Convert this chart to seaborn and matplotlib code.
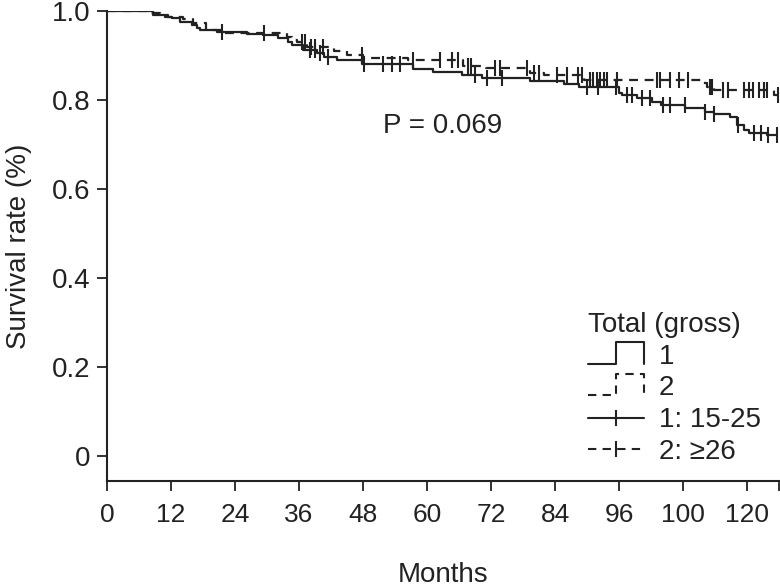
import numpy as np
import pandas as pd
import matplotlib
matplotlib.use("Agg")
import matplotlib.pyplot as plt
import seaborn as sns
from matplotlib.legend_handler import HandlerBase
from matplotlib.lines import Line2D

# Group 1: 15-25 (solid) - step times / survival after each step, censor times
g1_time = [0, 8.7, 10.9, 12.1, 13.7, 15.9, 16.8, 17.4, 20.6, 26.2,
           29.3, 32.1, 34.0, 34.7, 36.8, 39.3, 40.6, 43.1, 47.8, 57.4,
           61.2, 66.6, 70.3, 79.4, 85.6, 88.5, 96.0, 96.6, 99.4, 102.2,
           103.8, 108.4, 112.2, 113.8, 116.9, 118.1, 119.4, 120.3, 123.8]
g1_surv = [1.0, 0.991, 0.987, 0.984, 0.976, 0.969, 0.961, 0.957, 0.952, 0.948,
           0.946, 0.939, 0.931, 0.924, 0.912, 0.905, 0.897, 0.891, 0.882, 0.870,
           0.863, 0.856, 0.849, 0.842, 0.835, 0.830, 0.815, 0.811, 0.804, 0.796,
           0.789, 0.781, 0.773, 0.769, 0.762, 0.744, 0.733, 0.726, 0.722]
g1_end = 125.6
g1_cens = [21.5, 38.0, 39.0, 40.0, 41.5, 48.2, 51.8, 53.5, 55.0, 69.0, 71.2, 74.0,
           90.0, 92.0, 95.5, 97.5, 98.5, 100.4, 101.9, 104.2, 105.5, 108.3,
           112.2, 113.8, 118.4, 121.4, 122.6, 123.9, 125.6]

# Group 2: >=26 (dashed)
g2_time = [0, 8.0, 10.0, 11.5, 14.3, 16.2, 18.5, 22.0, 33.7, 34.6,
           35.6, 37.5, 42.5, 45.0, 48.0, 56.5, 66.8, 71.0, 79.4, 81.9,
           89.5, 111.5, 112.5, 113.8, 125.0]
g2_surv = [1.0, 0.995, 0.991, 0.987, 0.981, 0.974, 0.957, 0.950, 0.942, 0.935,
           0.931, 0.920, 0.910, 0.901, 0.894, 0.889, 0.876, 0.871, 0.860, 0.856,
           0.845, 0.838, 0.830, 0.822, 0.811]
g2_end = 125.8
g2_cens = [29.5, 36.5, 37.2, 38.3, 39.0, 40.5, 47.8, 57.4, 62.5, 64.7, 65.8,
           67.6, 68.2, 72.8, 73.7, 78.7, 80.0, 81.0, 84.4, 86.2, 88.4, 89.0,
           90.6, 91.2, 91.8, 92.5, 93.2, 93.8, 95.7, 103.2, 103.7, 105.6,
           107.3, 109.0, 113.0, 113.5, 115.5, 116.4, 119.5, 120.3, 121.2,
           122.2, 123.1, 123.8, 125.8]

x_ticks = [0, 12, 24, 36, 48, 60, 72, 84, 96, 108, 120, 126]
x_labels = ["0", "12", "24", "36", "48", "60", "72", "84", "96", "100", "120", ""]
y_ticks = [0, 0.2, 0.4, 0.6, 0.8, 1.0]
y_labels = ["0", "0.2", "0.4", "0.6", "0.8", "1.0"]
p_text = "P = 0.069"
legend_title = "Total (gross)"
legend_labels = ["1", "2", "1: 15-25", "2: \u226526"]

ink = "#222222"
dash = (0, (4, 3))


def step_frame(times, surv, end):
    return pd.DataFrame({"Months": list(times) + [end],
                         "Survival": list(surv) + [surv[-1]]})


def censor_frame(times, surv, cens):
    idx = np.searchsorted(times, cens, side="right") - 1
    return pd.DataFrame({"Months": cens, "Survival": np.asarray(surv)[idx]})


class StepHandler(HandlerBase):
    # little "__|‾|" box used by SPSS for the group lines
    def __init__(self, ls):
        super().__init__()
        self.ls = ls

    def create_artists(self, legend, orig_handle, xdescent, ydescent,
                       width, height, fontsize, trans):
        x0, y0 = -xdescent, -ydescent
        xs = [x0, x0 + 0.5 * width, x0 + 0.5 * width, x0 + width, x0 + width]
        ys = [y0, y0, y0 + height * 1.1, y0 + height * 1.1, y0]
        ln = Line2D(xs, ys, color=ink, lw=1.5, linestyle=self.ls, transform=trans)
        return [ln]


sns.set_theme(style="ticks")
plt.rcParams["font.family"] = ["Liberation Sans", "DejaVu Sans"]

fig = plt.figure(figsize=(7.8, 5.87), dpi=100)
ax = fig.add_axes([107 / 780, 106 / 587, 672 / 780, 470 / 587])

sns.lineplot(data=step_frame(g1_time, g1_surv, g1_end), x="Months", y="Survival",
             drawstyle="steps-post", color=ink, lw=1.6, estimator=None, ax=ax)
sns.lineplot(data=step_frame(g2_time, g2_surv, g2_end), x="Months", y="Survival",
             drawstyle="steps-post", color=ink, lw=1.6, linestyle=dash,
             estimator=None, ax=ax)

for c in [censor_frame(g1_time, g1_surv, g1_cens), censor_frame(g2_time, g2_surv, g2_cens)]:
    ax.plot(c["Months"], c["Survival"], linestyle="none", marker="|",
            markersize=11, markeredgewidth=1.5, color=ink)

ax.set_xlim(0, 126)
ax.set_ylim(-0.056, 1.0)
ax.set_xticks(x_ticks)
ax.set_xticklabels(x_labels)
ax.set_yticks(y_ticks)
ax.set_yticklabels(y_labels)
ax.tick_params(axis="x", length=7, width=1.3, pad=9, labelsize=19, colors=ink)
ax.tick_params(axis="y", length=7, width=1.3, pad=5, labelsize=20, colors=ink)
for s in ["top", "right"]:
    ax.spines[s].set_visible(False)
for s in ["left", "bottom"]:
    ax.spines[s].set_linewidth(1.5)
    ax.spines[s].set_color(ink)

ax.set_xlabel("Months", fontsize=20, color=ink, labelpad=25)
ax.set_ylabel("Survival rate (%)", fontsize=20, color=ink, labelpad=14)

ax.text(51.8, 0.742, p_text, fontsize=20, color=ink, va="center", ha="left")

h1 = Line2D([], [], color=ink)
h2 = Line2D([], [], color=ink)
h3 = Line2D([], [], color=ink, lw=1.5, marker="|", markersize=11, markeredgewidth=1.5)
h4 = Line2D([], [], color=ink, lw=1.5, linestyle=dash, marker="|",
            markersize=11, markeredgewidth=1.5)
leg = ax.legend([h1, h2, h3, h4], legend_labels, title=legend_title,
                handler_map={h1: StepHandler("-"), h2: StepHandler(dash)},
                loc="upper left", bbox_to_anchor=(0.716, 0.36), frameon=False,
                fontsize=20, title_fontsize=20, numpoints=1, handlelength=2.0,
                handletextpad=0.55, labelspacing=0.21, borderpad=0,
                borderaxespad=0, alignment="left")
for t in leg.get_texts():
    t.set_color(ink)
leg.get_title().set_color(ink)

fig.savefig("out.png", dpi=100)
